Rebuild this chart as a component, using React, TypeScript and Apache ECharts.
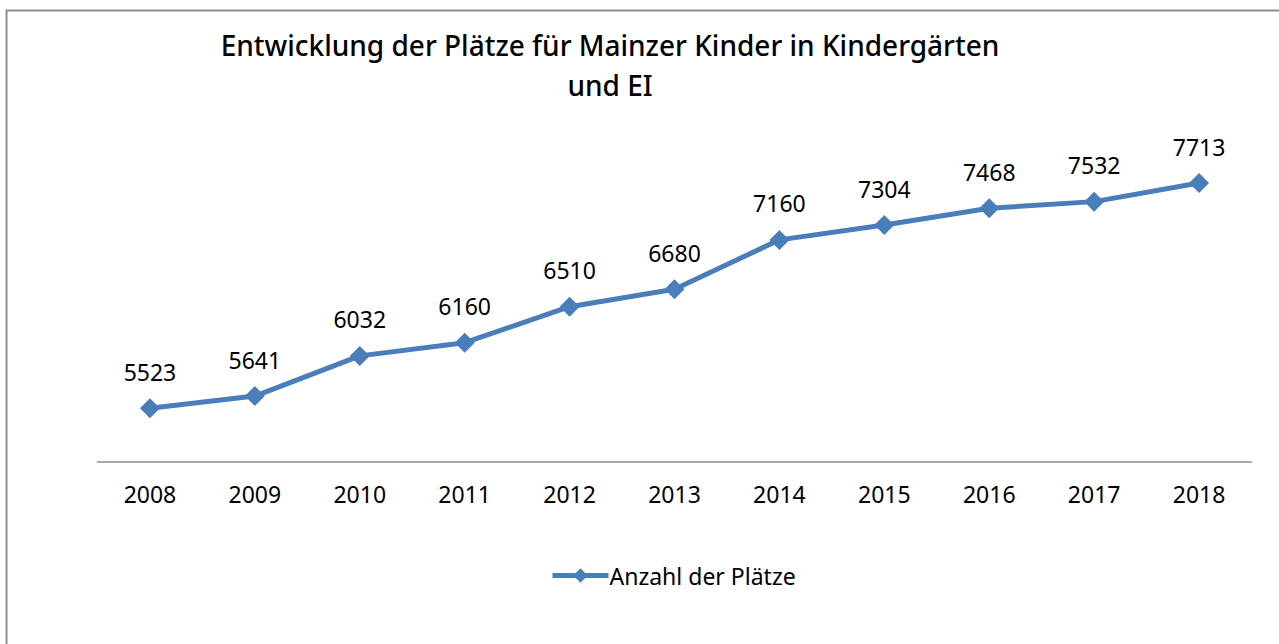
import React, { useEffect, useRef } from "react";
import * as echarts from "echarts";

const years = ["2008", "2009", "2010", "2011", "2012", "2013", "2014", "2015", "2016", "2017", "2018"];
const places = [5523, 5641, 6032, 6160, 6510, 6680, 7160, 7304, 7468, 7532, 7713];
const seriesName = "Anzahl der Plätze";
const titleText = "Entwicklung der Plätze für Mainzer Kinder in Kindergärten\nund EI";

export default function App() {
  const ref = useRef<HTMLDivElement>(null);
  useEffect(() => {
    if (!ref.current) return;
    const chart = echarts.init(ref.current, undefined, { renderer: "svg" });
    const font = "'Noto Sans', 'Open Sans', sans-serif";
    chart.setOption({
      animation: false,
      backgroundColor: "#ffffff",
      textStyle: { fontFamily: font },
      title: {
        text: titleText,
        left: 605,
        textAlign: "center",
        top: 20,
        textStyle: { fontFamily: font, fontSize: 28, fontWeight: 500, color: "#000", lineHeight: 40 },
      },
      graphic: [
        {
          type: "rect",
          shape: { x: 6.5, y: 10.5, width: 1400, height: 800 },
          style: { fill: "none", stroke: "#8c8c8c", lineWidth: 2 },
          silent: true,
        },
      ],
      legend: {
        data: [seriesName],
        left: 545,
        top: 559,
        itemWidth: 56,
        itemHeight: 18,
        itemGap: 4,
        lineStyle: { width: 5 },
        textStyle: { fontFamily: font, fontSize: 23, color: "#000", padding: [0, 0, 0, -4] },
      },
      grid: { left: 97.5, right: 27.5, top: 153.5, bottom: 182, containLabel: false },
      xAxis: {
        type: "category",
        data: years,
        boundaryGap: true,
        axisLine: { lineStyle: { color: "#8c8c8c", width: 1.5 } },
        axisTick: { show: false },
        axisLabel: { fontFamily: font, fontSize: 23, color: "#000", margin: 20 },
      },
      yAxis: {
        type: "value",
        min: 5000,
        max: 8000,
        show: false,
        splitLine: { show: false },
      },
      series: [
        {
          name: seriesName,
          type: "line",
          data: places,
          symbol: "diamond",
          symbolSize: 20,
          lineStyle: { color: "#4a7ebb", width: 5 },
          itemStyle: { color: "#4a7ebb" },
          label: {
            show: true,
            position: "top",
            distance: 15,
            fontFamily: font,
            fontSize: 23,
            color: "#000",
          },
        },
      ],
    });
    return () => chart.dispose();
  }, []);
  return (
    <div
      ref={ref}
      style={{ position: "fixed", left: 0, top: 0, width: 1279, height: 644 }}
    />
  );
}
